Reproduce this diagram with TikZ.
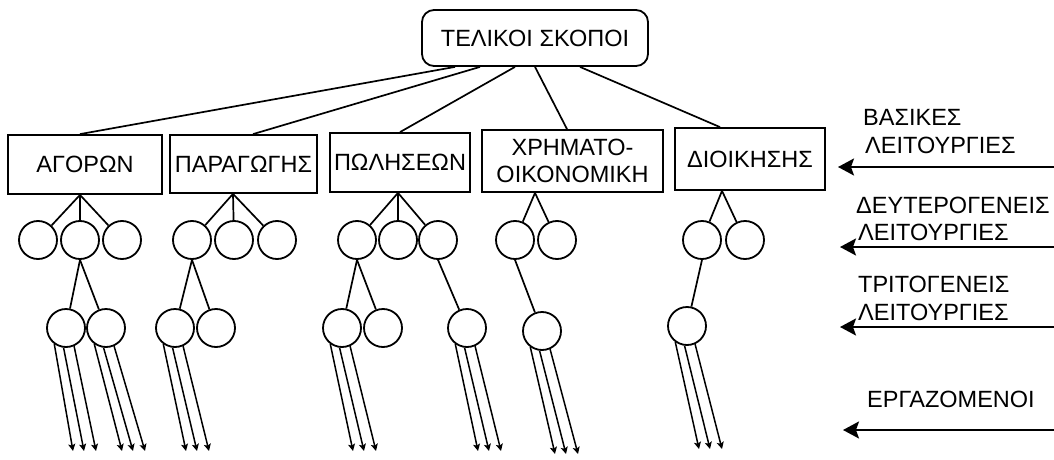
\documentclass[tikz,border=0pt]{standalone}
\usepackage{fontspec}
\setmainfont{Liberation Sans}
\usetikzlibrary{calc,arrows.meta}
\tikzset{
  txt/.style={font=\fontsize{23.5}{27}\selectfont},
  box/.style={draw, line width=1.8pt, inner sep=0pt, align=center, txt},
  goal/.style={box, rounded corners=12pt},
  func/.style={draw, circle, line width=1.8pt, minimum size=38pt, inner sep=0pt},
  link/.style={line width=1.7pt},
  worker/.style={line width=1.5pt, -{Stealth[length=7pt,width=7pt,inset=1.5pt]}},
  level/.style={line width=2pt, -{Stealth[length=16pt,width=17pt,inset=3pt]}},
  lbl/.style={anchor=base west, inner sep=0pt, txt},
}
% three employees hanging below a tertiary function
\newcommand\crew[2]{%
  \foreach \a/\dx [count=\k] in {-126/11,-97/22,-66/34}{
    \coordinate (#1w\k) at ($(#1.center)+({\dx+(#2)},123)$);
    \draw[worker] (#1.\a) -- (#1w\k);
  }}
\begin{document}
\begin{tikzpicture}[x=1pt,y=-1pt]
\useasboundingbox (0,0) rectangle (1054,460);

% goals
\node[goal, minimum width=226pt, minimum height=56pt] (top) at (535,38) {ΤΕΛΙΚΟΙ ΣΚΟΠΟΙ};

% basic functions
\node[box, minimum width=154pt, minimum height=59pt] (agoron) at (85,164.5) {ΑΓΟΡΩΝ};
\node[box, minimum width=147pt, minimum height=58pt] (paragogis) at (243.5,164) {ΠΑΡΑΓΩΓΗΣ};
\node[box, minimum width=140pt, minimum height=59pt] (poliseon) at (400,162.5) {ΠΩΛΗΣΕΩΝ};
\node[box, minimum width=181pt, minimum height=62pt] (xrimato) at (572.5,161) {ΧΡΗΜΑΤΟ-\\ΟΙΚΟΝΟΜΙΚΗ};
\node[box, minimum width=150pt, minimum height=62pt] (dioikisis) at (750,159) {ΔΙΟΙΚΗΣΗΣ};

% goals to basic functions
\draw[link] ($(top.south)+(-80,0)$) -- ($(agoron.north)+(-5,0)$);
\draw[link] ($(top.south)+(-55,0)$) -- ($(paragogis.north)+(9.5,0)$);
\draw[link] ($(top.south)+(-20,0)$) -- (poliseon.north);
\draw[link] (top.south) -- ($(xrimato.north)+(-5.5,0)$);
\draw[link] ($(top.south)+(45,0)$) -- ($(dioikisis.north)+(-30,0)$);

% secondary functions
\foreach \n/\x/\y in {a1/38/240, a2/80/240, a3/122/240,
                      p1/192/240, p2/234/240, p3/277/240,
                      s1/357/240, s2/398/240, s3/438/240,
                      x1/515/240, x2/557/240,
                      d1/702/240, d2/745/240}
  \node[func] (\n) at (\x,\y) {};

\coordinate (agoronj) at ($(agoron.south)+(-5,0)$);
\coordinate (paragogisj) at ($(paragogis.south)+(-10.5,0)$);
\coordinate (poliseonj) at ($(poliseon.south)+(-2,0)$);
\coordinate (xrimatoj) at ($(xrimato.south)+(-37.5,0)$);
\coordinate (dioikisisj) at ($(dioikisis.south)+(-28,0)$);

\foreach \c in {a1,a2,a3} \draw[link] (agoronj) -- (\c);
\foreach \c in {p1,p2,p3} \draw[link] (paragogisj) -- (\c);
\foreach \c in {s1,s2,s3} \draw[link] (poliseonj) -- (\c);
\foreach \c in {x1,x2} \draw[link] (xrimatoj) -- (\c);
\foreach \c in {d1,d2} \draw[link] (dioikisisj) -- (\c);

% tertiary functions
\foreach \n/\x/\y in {a21/66/328, a22/106/328,
                      p21/175/328, p22/216/328,
                      s21/342/328, s22/383/328, s23/467/328,
                      x21/542/331, d21/687/326}
  \node[func] (\n) at (\x,\y) {};

\draw[link] (a2.south) -- (a21);
\draw[link] (a2.south) -- (a22);
\draw[link] (p1.south) -- (p21);
\draw[link] (p1.south) -- (p22);
\draw[link] (s1.south) -- (s21);
\draw[link] (s1.south) -- (s22);
\draw[link] (s3.south) -- (s23);
\draw[link] (x1.south) -- (x21);
\draw[link] (d1.south) -- (d21);

% employees
\crew{a21}{-4}
\crew{a22}{5}
\crew{p21}{0}
\crew{s21}{0}
\crew{s23}{0}
\crew{x21}{2}
\crew{d21}{1}

% hierarchy levels
\node[lbl] (basA) at (863,125) {ΒΑΣΙΚΕΣ};
\node[lbl] (basB) at (865,153) {ΛΕΙΤΟΥΡΓΙΕΣ};
\node[lbl] (secA) at (856,213) {ΔΕΥΤΕΡΟΓΕΝΕΙΣ};
\node[lbl] (secB) at (858,240) {ΛΕΙΤΟΥΡΓΙΕΣ};
\node[lbl] (triA) at (858,292) {ΤΡΙΤΟΓΕΝΕΙΣ};
\node[lbl] (triB) at (858,320) {ΛΕΙΤΟΥΡΓΙΕΣ};
\node[lbl] (wrk) at (867,407) {ΕΡΓΑΖΟΜΕΝΟΙ};

\coordinate (r1) at (1054,167); \coordinate (l1) at (838,167);
\coordinate (r2) at (1054,247); \coordinate (l2) at (840,247);
\coordinate (r3) at (1054,327); \coordinate (l3) at (840,327);
\coordinate (r4) at (1054,430); \coordinate (l4) at (843,430);
\foreach \i in {1,...,4} \draw[level] (r\i) -- (l\i);
\end{tikzpicture}
\end{document}
